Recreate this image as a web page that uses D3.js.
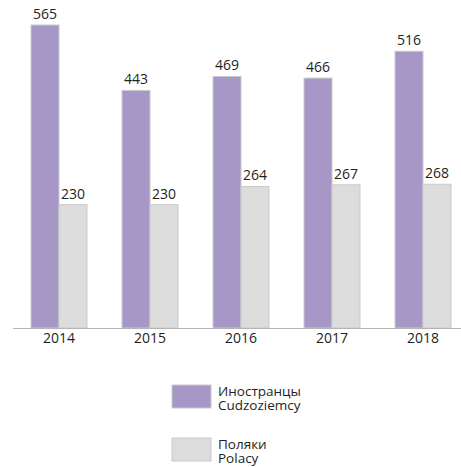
<!DOCTYPE html>
<html><head><meta charset="utf-8">
<script src="https://cdn.jsdelivr.net/npm/d3@7"></script>
<style>body{margin:0;background:#fff}svg{display:block;font-family:"Open Sans",sans-serif}</style>
</head><body><svg id="c" width="461" height="467"></svg>
<script>
const years = ["2014","2015","2016","2017","2018"];
const foreigners = [565,443,469,466,516];
const poles = [230,230,264,267,268];
const seriesNames = [["Иностранцы","Cudzoziemcy"],["Поляки","Polacy"]];
const colors = ["#a797c7","#dcdcdd"];

const svg = d3.select("#c");
const x = d3.scaleBand().domain(years).range([13.5,468.5]).paddingInner(0.385).paddingOuter(0.1925);
const xs = d3.scaleBand().domain([0,1]).range([0,x.bandwidth()]);
const y = d3.scaleLinear().domain([0,565]).range([328,25]);
const series=[foreigners,poles];
series.forEach((vals,si)=>{
  const g=svg.append("g");
  g.selectAll("rect").data(vals).join("rect")
    .attr("x",(d,i)=>x(years[i])+xs(si)).attr("y",d=>y(d))
    .attr("width",xs.bandwidth()).attr("height",d=>y(0)-y(d))
    .attr("fill",colors[si]).attr("stroke","#c9c9cc").attr("stroke-width",1);
  g.selectAll("text").data(vals).join("text")
    .attr("x",(d,i)=>x(years[i])+xs(si)+xs.bandwidth()/2).attr("y",d=>y(d)-6)
    .attr("text-anchor","middle").attr("font-size",14).attr("fill","#231f20").text(d=>d);
});
svg.append("line").attr("x1",13).attr("x2",461).attr("y1",328.5).attr("y2",328.5).attr("stroke","#b4b4b4");
const ax=d3.axisBottom(x).tickSize(0).tickPadding(5);
const axg=svg.append("g").attr("transform","translate(0,328)").call(ax);
axg.select(".domain").remove();
axg.selectAll("text").attr("font-size",14).attr("fill","#231f20").attr("font-family","Open Sans");
// legend
const lg=svg.append("g");
seriesNames.forEach((nm,i)=>{
  const yy=385+i*53;
  lg.append("rect").attr("x",172).attr("y",yy).attr("width",39).attr("height",23)
    .attr("fill",colors[i]).attr("stroke","#c9c9cc");
  nm.forEach((t,j)=>lg.append("text").attr("x",218).attr("y",yy+11+j*14).attr("font-size",13.5).attr("fill","#231f20").text(t));
});
</script></body></html>
